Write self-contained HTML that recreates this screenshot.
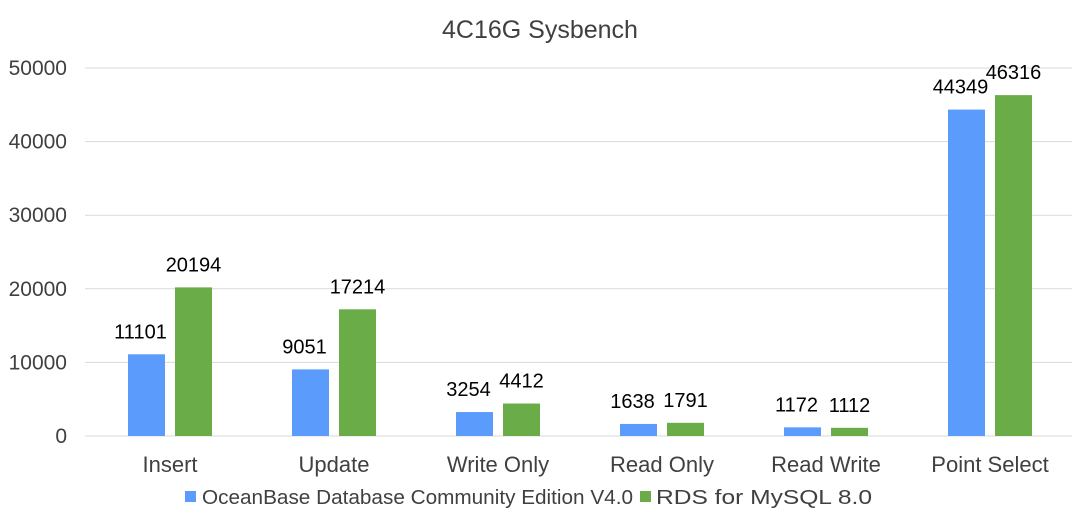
<!DOCTYPE html>
<html><head><meta charset="utf-8"><style>
body{margin:0;background:#fff;}
svg text{font-family:"Liberation Sans","Noto Sans CJK SC",sans-serif;}
</style></head><body>
<svg id="c" width="1080" height="521">
<text x="540" y="38" text-anchor="middle" font-size="25" fill="#404040">4C16G  Sysbench</text>
<g id="grid"></g><g id="bars"></g>
<g>
<rect x="185" y="491" width="11" height="11" fill="#5b9bfb"/>
<text x="202" y="504" font-size="20" fill="#404040" textLength="431" lengthAdjust="spacingAndGlyphs">OceanBase Database Community Edition V4.0</text>
<rect x="640" y="491" width="11" height="11" fill="#6aad48"/>
<text x="656" y="504" font-size="20" fill="#404040" textLength="216" lengthAdjust="spacingAndGlyphs">RDS for MySQL 8.0</text>
</g>
</svg>
<script>
const categories=["Insert","Update","Write Only","Read Only","Read Write","Point Select"];
const oceanbase=[11101,9051,3254,1638,1172,44349];
const rds=[20194,17214,4412,1791,1112,46316];
const ticks=[0,10000,20000,30000,40000,50000];
const NS="http://www.w3.org/2000/svg";
const x0=88,band=164,yBase=436,yTop=68,yMax=50000;
const y=v=>yBase-(v/yMax)*(yBase-yTop);
const xc=i=>x0+band*(i+0.5);
function mk(tag,attrs,parent,text){const e=document.createElementNS(NS,tag);for(const k in attrs)e.setAttribute(k,attrs[k]);if(text!==undefined)e.textContent=text;parent.appendChild(e);return e;}
const g=document.getElementById('grid'),b=document.getElementById('bars');
ticks.forEach(t=>{
 const l=mk('line',{x1:85,x2:1072,y1:y(t),y2:y(t),stroke:'#d9d9d9','stroke-width':1},g);
 
 
 const tx=mk('text',{x:67,y:y(t)+7,'text-anchor':'end','font-size':21,fill:'#404040'},g,String(t));
 
 
});
categories.forEach((c,i)=>{
 const cx=xc(i);
 [[oceanbase[i],cx-42,'#5b9bfb','oceanbase',-6],[rds[i],cx+5,'#6aad48','rds',0]].forEach(([v,bx,col,s,dx])=>{
  const r=mk('rect',{x:bx,y:y(v),width:37,height:yBase-y(v),fill:col},b);
  
  
  const t=mk('text',{x:bx+18.5+dx,y:y(v)-16,'text-anchor':'middle','font-size':20,fill:'#000'},b,String(v));
  
  
 });
 const lab=mk('text',{x:cx,y:472,'text-anchor':'middle','font-size':22,fill:'#404040'},b,c);
 
 
});
</script>
</body></html>
